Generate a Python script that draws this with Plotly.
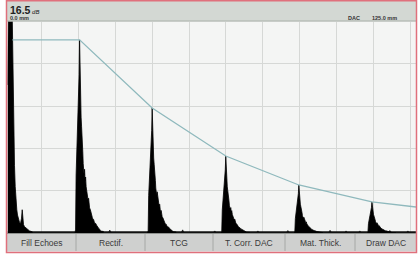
import numpy as np
import plotly.graph_objects as go

W, H = 418, 254

# ---------------- data ----------------
gain_db = "16.5"
start_mm = "0.0 mm"
range_label = "125.0 mm"
mode_label = "DAC"
x_range_mm = [0.0, 125.0]

# initial pulse outline (mm, % amplitude)
pulse_x = [0.0, 0.31, 1.38, 1.53, 1.69, 1.84, 1.99, 2.14, 2.36, 2.60, 2.85, 3.06,
           3.37, 3.68, 3.98, 4.29, 4.50, 4.69, 4.90, 5.21, 5.82, 6.74, 7.66]
pulse_y = [70, 110, 110, 88, 70, 56, 45, 32, 22, 15, 11, 8.5,
           6, 5, 4.5, 7, 11, 8, 4, 3, 2, 1, 0.5]

# back-wall echoes: position (mm) and peak amplitude (%)
echo_pos = [22.06, 44.27, 66.79, 89.15, 111.52]
echo_peak = [91.3, 59.1, 36.4, 22.7, 14.7]

# echo silhouette: offset from peak (mm) and fraction of peak
shape_dx = [-1.38, -1.23, -1.07, -0.92, -0.77, -0.61, -0.31, -0.15, 0.0, 0.12,
            0.31, 0.46, 0.61, 0.83, 0.98, 1.10, 1.38, 1.53, 1.69, 1.84, 2.00,
            2.14, 2.30, 2.45, 2.60, 2.76, 2.90, 3.06, 3.30, 3.50, 3.68, 3.90,
            4.10, 4.29, 4.60, 4.90, 5.21, 5.50, 5.82, 6.10, 6.43, 7.35]
shape_f = [0.0, 0.02, 0.30, 0.38, 0.50, 0.60, 0.78, 0.82, 1.0, 0.80,
           0.75, 0.60, 0.55, 0.50, 0.42, 0.36, 0.30, 0.33, 0.27, 0.29, 0.24,
           0.22, 0.23, 0.19, 0.17, 0.18, 0.14, 0.13, 0.12, 0.10, 0.10, 0.08,
           0.07, 0.07, 0.05, 0.05, 0.04, 0.03, 0.025, 0.02, 0.01, 0.008]

# baseline grass (mm, %)
grass_x = [31.3, 53.6, 63.4, 76.6, 85.8, 98.7, 103.6, 107.8, 117.0, 122.5]
grass_y = [1.4, 1.5, 1.0, 1.0, 1.2, 1.3, 1.0, 1.0, 1.2, 1.0]

# DAC curve
dac_x = [1.5, 22.06, 44.27, 66.79, 89.15, 111.52, 125.0]
dac_y = [91.3, 91.3, 59.1, 36.4, 22.7, 14.7, 12.3]

# grid
grid_x0, grid_dx = 10.42, 11.28

# softkey labels
buttons = ["Fill Echoes", "Rectif.", "TCG", "T. Corr. DAC", "Mat. Thick.", "Draw DAC"]
button_edges_px = [7, 76, 145, 213, 285, 355, 416]

# ---------------- figure ----------------
fig = go.Figure()

# baseline
fig.add_trace(go.Scatter(x=x_range_mm, y=[0.4, 0.4], mode="lines",
                         line=dict(color="#111111", width=1.6),
                         hoverinfo="skip", showlegend=False))

# grass bumps
for gx, gy in zip(grass_x, grass_y):
    fig.add_trace(go.Scatter(x=[gx - 0.5, gx - 0.2, gx, gx + 0.25, gx + 0.6],
                             y=[0, gy * 0.6, gy, gy * 0.5, 0],
                             mode="lines", fill="tozeroy", fillcolor="#111111",
                             line=dict(color="#111111", width=0.6),
                             hoverinfo="skip", showlegend=False))

# initial pulse
fig.add_trace(go.Scatter(x=pulse_x, y=pulse_y, mode="lines", fill="tozeroy",
                         fillcolor="#000000", line=dict(color="#000000", width=0.8),
                         hoverinfo="skip", showlegend=False))

# echoes
sdx = np.array(shape_dx)
sf = np.array(shape_f)
for pos, pk in zip(echo_pos, echo_peak):
    fig.add_trace(go.Scatter(x=pos + sdx, y=pk * sf, mode="lines", fill="tozeroy",
                             fillcolor="#000000", line=dict(color="#000000", width=0.8),
                             hoverinfo="skip", showlegend=False))

# DAC
fig.add_trace(go.Scatter(x=dac_x, y=dac_y, mode="lines",
                         line=dict(color="#8fb9bd", width=1.3),
                         hoverinfo="skip", showlegend=False))

x0p, x1p = 7.5, 416
ytop, ybot = 21.5, 233.0
fig.update_layout(
    width=W, height=H, margin=dict(l=0, r=0, t=0, b=0),
    paper_bgcolor="white", plot_bgcolor="#f4f5f4",
    xaxis=dict(domain=[x0p / W, x1p / W], range=x_range_mm, showgrid=True,
               gridcolor="#d6d8d6", gridwidth=1, tick0=grid_x0, dtick=grid_dx,
               showticklabels=False, zeroline=False, ticks="", fixedrange=True),
    yaxis=dict(domain=[1 - ybot / H, 1 - ytop / H], range=[0, 100], showgrid=True,
               gridcolor="#d6d8d6", gridwidth=1, dtick=20,
               showticklabels=False, zeroline=False, ticks="", fixedrange=True),
    showlegend=False,
)

def px(x):
    return x / W

def py(y):
    return 1 - y / H

shapes = []
# header bar
shapes.append(dict(type="rect", xref="paper", yref="paper", x0=px(6.5), x1=px(416),
                   y0=py(21.5), y1=py(0.5), fillcolor="#d3d8d3", line=dict(width=0),
                   layer="below"))
shapes.append(dict(type="line", xref="paper", yref="paper", x0=px(6.5), x1=px(416),
                   y0=py(21), y1=py(21), line=dict(color="#a9b0a9", width=1)))
# bottom bar
shapes.append(dict(type="rect", xref="paper", yref="paper", x0=px(6.5), x1=px(416),
                   y0=py(251.5), y1=py(233), fillcolor="#cfd0cf", line=dict(width=0),
                   layer="below"))
shapes.append(dict(type="line", xref="paper", yref="paper", x0=px(6.5), x1=px(416),
                   y0=py(233.5), y1=py(233.5), line=dict(color="#8e918e", width=1)))
for e in button_edges_px[1:-1]:
    shapes.append(dict(type="line", xref="paper", yref="paper", x0=px(e), x1=px(e),
                       y0=py(251), y1=py(234), line=dict(color="#a6a8a6", width=1)))
# red frame
shapes.append(dict(type="rect", xref="paper", yref="paper", x0=px(6.5), x1=px(416.5),
                   y0=py(252.5), y1=py(0.7), line=dict(color="#e0707c", width=1.5),
                   fillcolor="rgba(0,0,0,0)"))
fig.update_layout(shapes=shapes)

ann = []
font = "Liberation Sans, Arial, sans-serif"
ann.append(dict(xref="paper", yref="paper", x=px(7.5), y=py(2), xanchor="left",
                yanchor="top", showarrow=False,
                text="<b>" + gain_db + "</b><i><span style='font-size:6px'> dB</span></i>",
                font=dict(family=font, size=10.5, color="#222222")))
ann.append(dict(xref="paper", yref="paper", x=px(7.5), y=py(12.5), xanchor="left",
                yanchor="top", showarrow=False, text="<b>" + start_mm + "</b>",
                font=dict(family=font, size=5.5, color="#333333")))
ann.append(dict(xref="paper", yref="paper", x=px(346), y=py(12.5), xanchor="left",
                yanchor="top", showarrow=False, text="<b>" + mode_label + "</b>",
                font=dict(family=font, size=5.5, color="#333333")))
ann.append(dict(xref="paper", yref="paper", x=px(370), y=py(12.5), xanchor="left",
                yanchor="top", showarrow=False, text="<b>" + range_label + "</b>",
                font=dict(family=font, size=5.5, color="#333333")))
for i, lab in enumerate(buttons):
    cx = (button_edges_px[i] + button_edges_px[i + 1]) / 2
    ann.append(dict(xref="paper", yref="paper", x=px(cx), y=py(242.5), xanchor="center",
                    yanchor="middle", showarrow=False, text=lab,
                    font=dict(family=font, size=8.5, color="#3a3a3a")))
fig.update_layout(annotations=ann)

fig.write_html("out.html", config={"displayModeBar": False, "responsive": False},
               post_script="document.body.style.margin='0';document.body.style.overflow='hidden';")
